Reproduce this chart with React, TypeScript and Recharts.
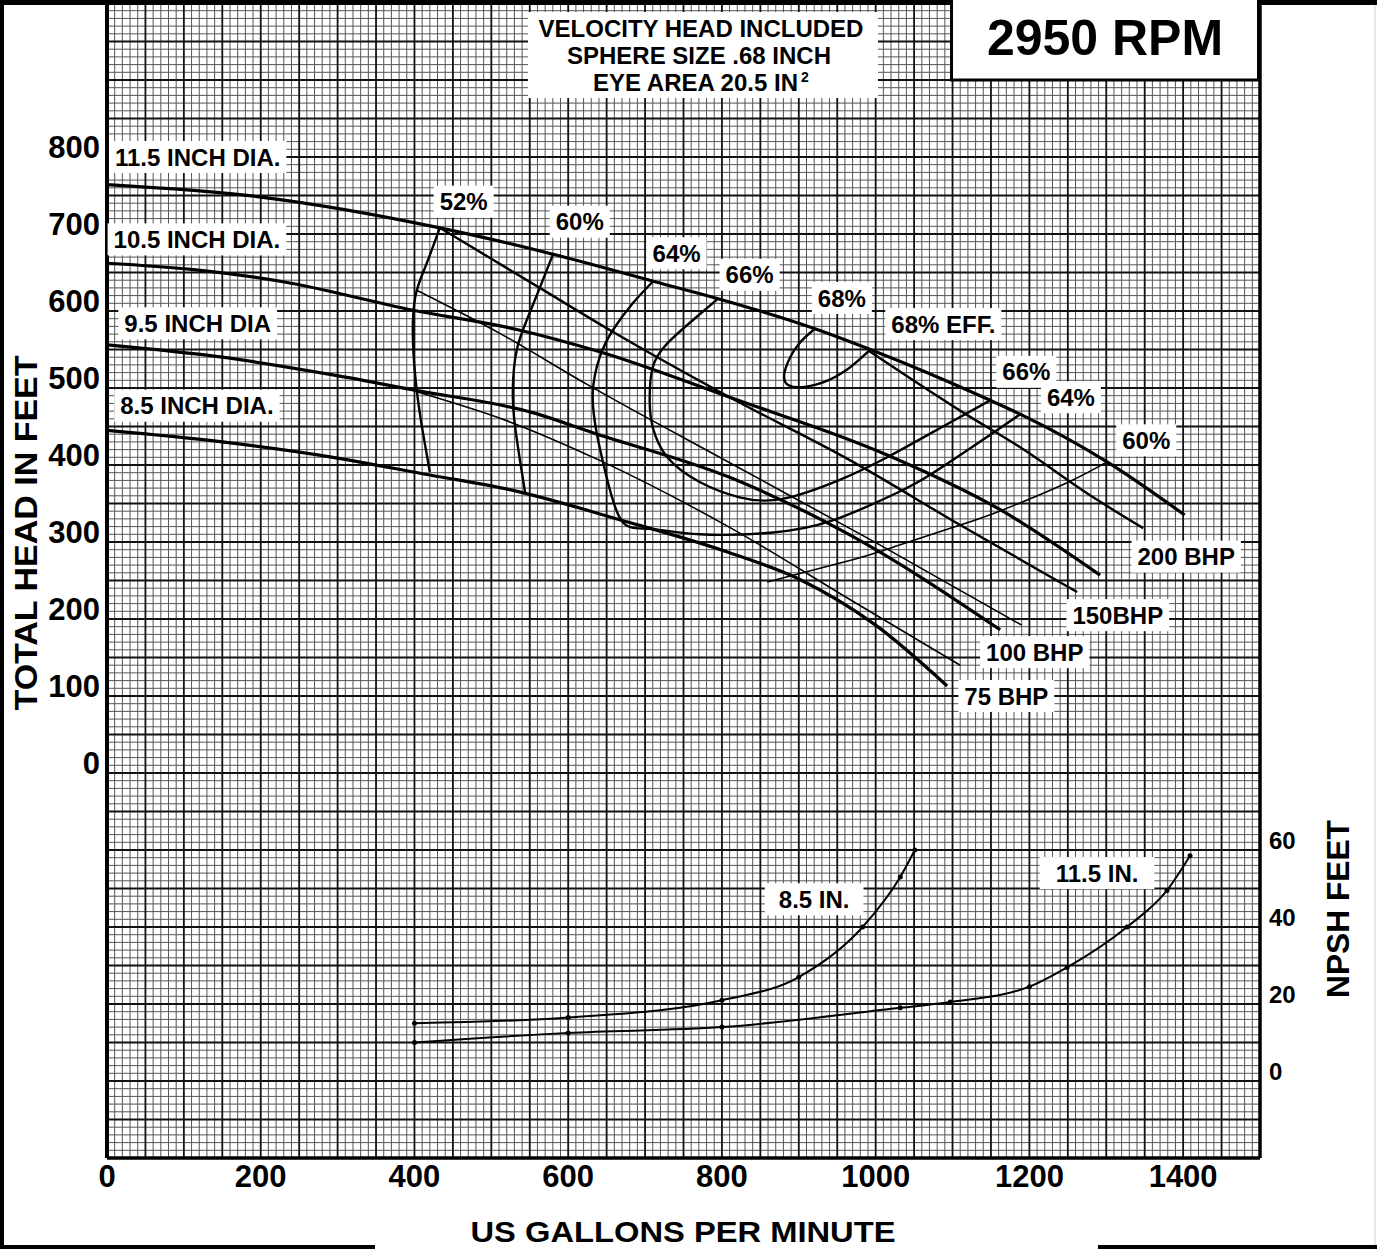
import React from "react";
import { ComposedChart, Line, XAxis, YAxis, CartesianGrid, ReferenceDot } from "recharts";

type Pt = { q: number; h: number };
const toPts = (rows: number[][]): Pt[] => rows.map(([q, h]) => ({ q, h }));

// axis ticks
const gpmTicks = [0, 200, 400, 600, 800, 1000, 1200, 1400];
const headTicks = [0, 100, 200, 300, 400, 500, 600, 700, 800];
const npshTicks = [0, 20, 40, 60];

// head-capacity curves per impeller diameter (gpm, ft)
const dia115 = toPts([[0, 764], [200, 748], [433, 708], [583, 673], [713, 638], [795, 616], [921, 577], [993, 550], [1149, 484], [1188, 466], [1301, 404], [1402, 335]]);
const dia105 = toPts([[0, 662], [110, 654], [229, 638], [398, 601], [533, 576], [641, 547], [810, 488], [1015, 413], [1162, 342], [1292, 257]]);
const dia95 = toPts([[0, 556], [150, 540], [294, 517], [401, 497], [554, 468], [632, 442], [810, 384], [967, 309], [1162, 186]]);
const dia85 = toPts([[0, 445], [150, 430], [294, 410], [420, 387], [524, 368], [667, 329], [810, 286], [902, 251], [1000, 192], [1093, 113]]);

// brake horsepower lines (125 is the unlabelled one)
const bhp200 = toPts([[990, 549], [1114, 468], [1188, 423], [1283, 358], [1348, 318]]);
const bhp150 = toPts([[433, 708], [563, 630], [658, 573], [810, 488], [967, 406], [1110, 322], [1262, 235]]);
const bhp125 = toPts([[403, 627], [511, 571], [624, 505], [810, 403], [1006, 296], [1190, 192]]);
const bhp100 = toPts([[403, 495], [524, 456], [641, 406], [810, 319], [967, 225], [1110, 140]]);

// iso-efficiency curves
const eff52 = toPts([[433, 708], [414, 657], [401, 618], [398, 562], [403, 497], [411, 442], [420, 391]]);
const eff60a = toPts([[580, 673], [563, 630], [546, 588], [533, 549], [528, 501], [531, 449], [544, 364]]);
const eff60b = toPts([[859, 248], [970, 277], [1028, 295], [1110, 322], [1166, 342], [1249, 377], [1301, 404]]);
const eff64 = toPts([[710, 638], [684, 610], [658, 575], [641, 540], [632, 494], [637, 442], [650, 384], [670, 327], [706, 317], [771, 310], [863, 312], [944, 328], [1028, 364], [1075, 390], [1153, 442], [1188, 466]]);
const eff66 = toPts([[795, 616], [762, 588], [729, 558], [710, 527], [706, 484], [710, 449], [729, 410], [771, 378], [823, 358], [879, 356], [954, 381], [1015, 410], [1084, 448], [1149, 484]]);
const eff68 = toPts([[921, 577], [899, 556], [883, 526], [886, 504], [921, 504], [960, 522], [993, 550]]);

// NPSH required (gpm, ft)
const npsh85 = toPts([[400, 15], [600, 16.5], [800, 21], [900, 27], [983, 40], [1032, 53], [1051, 60]]);
const npsh115 = toPts([[400, 10], [600, 12.5], [800, 14], [1032, 19], [1097, 20.5], [1200, 24.5], [1249, 29.5], [1327, 40], [1379, 49.5], [1409, 58.5]]);

// labels on the curves (gpm, ft)
const curveLabels = [
  { q: 118, h: 800, text: "11.5 INCH DIA." },
  { q: 117, h: 693, text: "10.5 INCH DIA." },
  { q: 118, h: 584, text: "9.5 INCH DIA" },
  { q: 117, h: 477, text: "8.5 INCH DIA." },
  { q: 464, h: 742, text: "52%" },
  { q: 615, h: 716, text: "60%" },
  { q: 741, h: 675, text: "64%" },
  { q: 836, h: 647, text: "66%" },
  { q: 956, h: 617, text: "68%" },
  { q: 1088, h: 583, text: "68% EFF." },
  { q: 1196, h: 521, text: "66%" },
  { q: 1254, h: 488, text: "64%" },
  { q: 1352, h: 432, text: "60%" },
  { q: 1404, h: 281, text: "200 BHP" },
  { q: 1315, h: 205, text: "150BHP" },
  { q: 1207, h: 157, text: "100 BHP" },
  { q: 1170, h: 100, text: "75 BHP" },
  { q: 920, h: -164, text: "8.5 IN.", pad: 14 },
  { q: 1288, h: -130, text: "11.5 IN.", pad: 16 },
];

const FONT = '"Liberation Sans", Arial, Helvetica, sans-serif';
const W = 1377;
const H = 1250;

const range = (a: number, b: number, s: number) => {
  const r: number[] = [];
  for (let v = a; v <= b; v += s) r.push(v);
  return r;
};
const fineX = range(0, 1500, 10).filter((v) => v % 50 !== 0);
const majorX = range(0, 1500, 50);
const fineY = range(-500, 1000, 10).filter((v) => v % 50 !== 0);
const majorY = range(-500, 1000, 50);

let ctx: CanvasRenderingContext2D | null = null;
function measure(t: string, size: number) {
  if (!ctx) ctx = document.createElement("canvas").getContext("2d");
  if (!ctx) return t.length * size * 0.6;
  ctx.font = `bold ${size}px ${FONT}`;
  return ctx.measureText(t).width;
}

const txt = (size: number) => ({ fontFamily: FONT, fontWeight: 700, fontSize: size, fill: "#000" });

function BoxText({ cx, cy, text, size = 24, pad = 6 }: { cx: number; cy: number; text: string; size?: number; pad?: number }) {
  const w = measure(text, size) + pad * 2;
  const h = size + 8;
  return (
    <g>
      <rect x={cx - w / 2} y={cy - h / 2} width={w} height={h} fill="#fff" />
      <text x={cx} y={cy + size * 0.36} textAnchor="middle" style={txt(size)}>
        {text}
      </text>
    </g>
  );
}

const HeadTick = (p: any) => (
  <text x={100} y={p.y + 1} textAnchor="end" style={txt(31)}>
    {p.payload.value}
  </text>
);
const NpshTick = (p: any) => (
  <text x={1269} y={p.y - 1.5} textAnchor="start" style={txt(24)}>
    {p.payload.value}
  </text>
);
const GpmTick = (p: any) => (
  <text x={p.x} y={1187} textAnchor="middle" style={txt(31)}>
    {p.payload.value}
  </text>
);

export default function App() {
  const heavy = { stroke: "#000", strokeWidth: 3.2, dot: false, isAnimationActive: false };
  const mid = { stroke: "#000", strokeWidth: 2.4, dot: false, isAnimationActive: false };
  const thin = { stroke: "#000", strokeWidth: 1.6, dot: false, isAnimationActive: false };

  return (
    <div style={{ position: "absolute", left: 0, top: 0, width: W, height: H, background: "#fff" }}>
      <ComposedChart width={W} height={H} margin={{ top: 3, right: 0, bottom: 0, left: 0 }}>
        <CartesianGrid verticalValues={fineX} horizontalValues={fineY} stroke="#555" strokeWidth={1} />
        <CartesianGrid verticalValues={majorX} horizontalValues={majorY} stroke="#111" strokeWidth={1.8} />
        <XAxis
          type="number"
          dataKey="q"
          domain={[0, 1500]}
          ticks={gpmTicks}
          interval={0}
          height={92}
          allowDataOverflow
          axisLine={{ stroke: "#000", strokeWidth: 3.5 }}
          tickLine={false}
          tick={GpmTick}
        />
        <YAxis
          type="number"
          domain={[-500, 1000]}
          ticks={headTicks}
          interval={0}
          width={107}
          allowDataOverflow
          axisLine={{ stroke: "#000", strokeWidth: 4 }}
          tickLine={false}
          tick={HeadTick}
        />
        <YAxis
          yAxisId="npsh"
          orientation="right"
          type="number"
          domain={[-20, 280]}
          ticks={npshTicks}
          interval={0}
          width={117}
          allowDataOverflow
          axisLine={{ stroke: "#000", strokeWidth: 3.5 }}
          tickLine={false}
          tick={NpshTick}
        />

        <Line data={dia115} dataKey="h" type="monotone" {...heavy} />
        <Line data={dia105} dataKey="h" type="monotone" {...heavy} />
        <Line data={dia95} dataKey="h" type="monotone" {...heavy} />
        <Line data={dia85} dataKey="h" type="monotone" {...heavy} />

        <Line data={bhp200} dataKey="h" type="monotone" {...mid} />
        <Line data={bhp150} dataKey="h" type="monotone" {...mid} />
        <Line data={bhp125} dataKey="h" type="monotone" {...thin} />
        <Line data={bhp100} dataKey="h" type="monotone" {...thin} />

        <Line data={eff52} dataKey="h" type="natural" {...mid} />
        <Line data={eff60a} dataKey="h" type="natural" {...mid} />
        <Line data={eff60b} dataKey="h" type="natural" {...thin} />
        <Line data={eff64} dataKey="h" type="natural" {...mid} />
        <Line data={eff66} dataKey="h" type="natural" {...mid} />
        <Line data={eff68} dataKey="h" type="natural" {...mid} />

        <Line
          yAxisId="npsh"
          data={npsh85}
          dataKey="h"
          type="monotone"
          stroke="#000"
          strokeWidth={2}
          dot={{ r: 2.5, fill: "#000", stroke: "none" }}
          isAnimationActive={false}
        />
        <Line
          yAxisId="npsh"
          data={npsh115}
          dataKey="h"
          type="monotone"
          stroke="#000"
          strokeWidth={2}
          dot={{ r: 2.5, fill: "#000", stroke: "none" }}
          isAnimationActive={false}
        />

        {curveLabels.map((l, i) => (
          <ReferenceDot
            key={i}
            x={l.q}
            y={l.h}
            r={0}
            shape={(p: any) => <BoxText cx={p.cx} cy={p.cy} text={l.text} pad={l.pad} />}
          />
        ))}
      </ComposedChart>

      <svg width={W} height={H} style={{ position: "absolute", left: 0, top: 0, pointerEvents: "none" }}>
        {/* page frame */}
        <rect x={0} y={0} width={W} height={5} fill="#000" />
        <rect x={0} y={0} width={4} height={1248} fill="#000" />
        <rect x={0} y={1245} width={375} height={4} fill="#000" />
        <rect x={1098} y={1245} width={279} height={4} fill="#000" />
        <line x1={1375} y1={5} x2={1375} y2={1245} stroke="#ccc" strokeWidth={1} />

        {/* notes box */}
        <rect x={528} y={12} width={350} height={86} fill="#fff" />
        <text x={701} y={36.6} textAnchor="middle" style={txt(24)}>
          VELOCITY HEAD INCLUDED
        </text>
        <text x={699} y={63.6} textAnchor="middle" style={txt(24)}>
          SPHERE SIZE .68 INCH
        </text>
        <text x={593} y={90.6} textAnchor="start" style={txt(24)}>
          EYE AREA 20.5 IN
        </text>
        <text x={801} y={82} textAnchor="start" style={txt(14)}>
          2
        </text>

        {/* speed box */}
        <rect x={951.5} y={-2} width={307} height={82} fill="#fff" stroke="#000" strokeWidth={3} />
        <text x={1105} y={55} textAnchor="middle" style={txt(50)}>
          2950 RPM
        </text>

        {/* axis titles */}
        <text
          transform="translate(37,533) rotate(-90)"
          textAnchor="middle"
          textLength={355}
          lengthAdjust="spacingAndGlyphs"
          style={txt(31)}
        >
          TOTAL HEAD IN FEET
        </text>
        <text
          transform="translate(1349,909) rotate(-90)"
          textAnchor="middle"
          textLength={178}
          lengthAdjust="spacingAndGlyphs"
          style={txt(32)}
        >
          NPSH FEET
        </text>
        <text x={683} y={1242} textAnchor="middle" textLength={425} lengthAdjust="spacingAndGlyphs" style={txt(30)}>
          US GALLONS PER MINUTE
        </text>
      </svg>
    </div>
  );
}
